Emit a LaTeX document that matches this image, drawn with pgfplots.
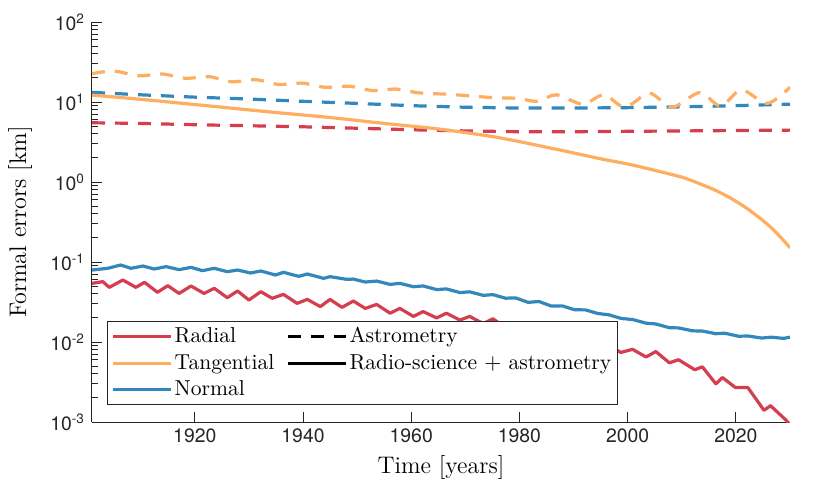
\documentclass[border=0pt]{standalone}
\usepackage{fontspec}
\newfontfamily\heros{TeX Gyre Heros}
\usepackage{pgfplots}
\pgfplotsset{compat=1.18}

\definecolor{cRad}{HTML}{D53E4F}
\definecolor{cTan}{HTML}{FDAE61}
\definecolor{cNor}{HTML}{3288BD}
\definecolor{axgray}{HTML}{262626}

\tikzset{astro/.style={dash pattern=on 6.5pt off 5pt}}

\begin{document}
\begin{tikzpicture}
\path[use as bounding box] (-46pt,-36pt) rectangle (369pt,211pt);
\begin{axis}[
    at={(0,0)}, anchor=south west,
    scale only axis, width=349pt, height=200pt,
    xmin=1901, xmax=2030,
    ymode=log, ymin=1e-3, ymax=1e2,
    axis lines*=left,
    axis line style={axgray, line width=0.5pt, -},
    tick align=inside,
    major tick length=5pt, minor tick length=2.8pt,
    tick style={axgray, line width=0.5pt},
    xtick={1920,1940,...,2020},
    xticklabels={1920,1940,1960,1980,2000,2020},
    ytick={1e-3,1e-2,1e-1,1,10,100},
    yticklabels={10\textsuperscript{-3},10\textsuperscript{-2},10\textsuperscript{-1},10\textsuperscript{0},10\textsuperscript{1},10\textsuperscript{2}},
    ticklabel style={font=\fontsize{9.7}{11.6}\heros, text=axgray},
    xlabel={Time [years]},
    ylabel={Formal errors [km]},
    label style={font=\fontsize{12}{14}\selectfont},
    xlabel style={at={(axis description cs:0.5,0)}, yshift=-22.5pt, anchor=center},
    ylabel style={at={(axis description cs:-0.103,0.5)}, anchor=center},
    legend columns=2,
    legend cell align=left,
    legend image code/.code={\draw[#1] (0pt,0pt) -- (29pt,0pt);},
    legend style={at={(axis description cs:0.0215,0.0425)}, anchor=south west,
        draw=axgray, line width=0.5pt, font=\fontsize{10.8}{13}\selectfont,
        inner xsep=2pt, inner ysep=1.5pt, row sep=1.2pt,
        nodes={inner xsep=1pt, inner ysep=1.5pt},
        /tikz/every even column/.append style={column sep=5pt}},
    every axis plot/.append style={line width=1.6pt, line join=round},
]

% astrometry only
\addplot[cRad, astro, forget plot] coordinates {
(1901,5.5)(1910,5.4)(1920,5.2)(1930,5.05)(1940,4.9)(1950,4.7)(1960,4.5)
(1970,4.35)(1980,4.25)(1990,4.25)(2000,4.3)(2010,4.35)(2020,4.4)(2030,4.45)};
\addplot[cNor, astro, forget plot] coordinates {
(1901,13.2)(1910,12.3)(1920,11.5)(1930,10.9)(1940,10.2)(1950,9.6)(1960,9.0)
(1970,8.6)(1980,8.4)(1990,8.4)(2000,8.5)(2010,8.7)(2020,9.0)(2030,9.4)};
\addplot[cTan, astro, smooth, forget plot] coordinates {
(1901,22.6)(1905,24.4)(1909.6,21.3)(1914,22.4)(1918.2,19.8)(1922.7,20.7)
(1926.8,17.9)(1931.3,19.0)(1935.4,16.6)(1939.9,17.2)(1944,15.3)(1948.6,15.7)
(1952.9,13.9)(1957.2,14.5)(1961.5,13.0)(1966.8,12.5)(1971,11.9)(1975.4,11.3)
(1979.7,11.1)(1983.3,10.2)(1986.8,12.3)(1991.7,9.4)(1995.6,12.3)(1999.5,8.6)
(2004,12.9)(2008.2,8.6)(2013.3,13.1)(2017.2,8.9)(2021,14.2)(2025.8,9.6)(2030,15.3)};

% radio-science + astrometry
\addplot[cTan, smooth, forget plot] coordinates {
(1901,12.2)(1910,10.8)(1920,9.3)(1934,7.5)(1945,6.4)(1955,5.4)(1965,4.6)
(1976,3.6)(1987,2.55)(1995,1.95)(2000,1.68)(2005,1.40)(2010,1.15)(2013,0.97)
(2016,0.8)(2019,0.63)(2022,0.47)(2025,0.33)(2027,0.25)(2029,0.18)(2030,0.15)};
\addplot[cNor, forget plot] coordinates {
(1901.0,0.0794)(1903.9,0.0834)(1906.3,0.0917)(1908.2,0.0834)(1910.4,0.0891)
(1912.5,0.0818)(1914.7,0.0875)(1917.1,0.0802)(1919.3,0.0857)(1921.4,0.0780)
(1923.6,0.0834)(1926.0,0.0757)(1927.9,0.0794)(1930.3,0.0729)(1932.2,0.0772)
(1934.9,0.0688)(1936.4,0.0743)(1939.2,0.0662)(1940.8,0.0708)(1943.8,0.0625)
(1945.0,0.0656)(1948.1,0.0607)(1949.3,0.0612)(1951.5,0.0562)(1953.6,0.0578)
(1956.1,0.0525)(1957.9,0.0541)(1960.4,0.0491)(1962.2,0.0502)(1964.7,0.0452)
(1966.5,0.0461)(1969.0,0.0415)(1970.8,0.0424)(1973.3,0.0383)(1975.1,0.0391)
(1977.4,0.0353)(1979.3,0.0356)(1981.6,0.0313)(1983.6,0.0321)(1985.9,0.0281)
(1987.9,0.0283)(1990.2,0.0253)(1992.2,0.0252)(1994.5,0.0227)(1996.5,0.0219)
(1998.8,0.0197)(2000.9,0.0191)(2003.4,0.0172)(2005.2,0.0168)(2007.7,0.0151)
(2009.4,0.0150)(2012.0,0.0138)(2013.8,0.0137)(2016.3,0.0127)(2017.9,0.0129)
(2020.5,0.0118)(2022.2,0.0119)(2024.8,0.0112)(2026.5,0.0115)(2028.8,0.0111)
(2030.0,0.0115)};
\addplot[cRad, forget plot] coordinates {
(1901.0,0.0541)(1903.0,0.0568)(1904.2,0.0482)(1906.7,0.0596)(1909.1,0.0482)
(1910.7,0.0557)(1913.1,0.0418)(1915.0,0.0506)(1917.1,0.0405)(1919.3,0.0501)
(1921.7,0.0405)(1923.6,0.0469)(1926.0,0.0358)(1927.9,0.0434)(1930.0,0.0335)
(1932.2,0.0426)(1934.3,0.0352)(1936.4,0.0394)(1938.9,0.0304)(1940.8,0.0341)
(1943.2,0.0277)(1945.0,0.0341)(1947.2,0.0271)(1949.3,0.0325)(1951.5,0.0263)
(1953.6,0.0295)(1956.1,0.0229)(1957.9,0.0263)(1960.4,0.0209)(1962.2,0.0240)
(1964.7,0.0200)(1966.5,0.0229)(1969.0,0.0188)(1970.8,0.0209)(1973.3,0.0170)
(1975.1,0.0195)(1977.4,0.0152)(1979.3,0.0171)(1981.6,0.0132)(1983.6,0.0147)
(1985.9,0.0113)(1987.9,0.0127)(1990.2,0.0097)(1992.2,0.0109)(1994.5,0.0083)
(1996.5,0.0093)(1998.7,0.0074)(2000.9,0.0081)(2003.4,0.0065)(2005.2,0.0076)
(2007.7,0.0055)(2009.4,0.0060)(2012.4,0.0045)(2013.8,0.0049)(2016.3,0.0030)
(2017.5,0.0036)(2019.9,0.0027)(2022.2,0.0027)(2025.2,0.0014)(2026.4,0.0016)
(2029.3,0.00105)(2030.0,0.00092)};

\addlegendimage{cRad, line width=1.6pt}
\addlegendentry{Radial}
\addlegendimage{black, astro, line width=1.6pt}
\addlegendentry{Astrometry}
\addlegendimage{cTan, line width=1.6pt}
\addlegendentry{Tangential}
\addlegendimage{black, line width=1.6pt}
\addlegendentry{Radio-science $+$ astrometry}
\addlegendimage{cNor, line width=1.6pt}
\addlegendentry{Normal}
\end{axis}
\end{tikzpicture}
\end{document}
